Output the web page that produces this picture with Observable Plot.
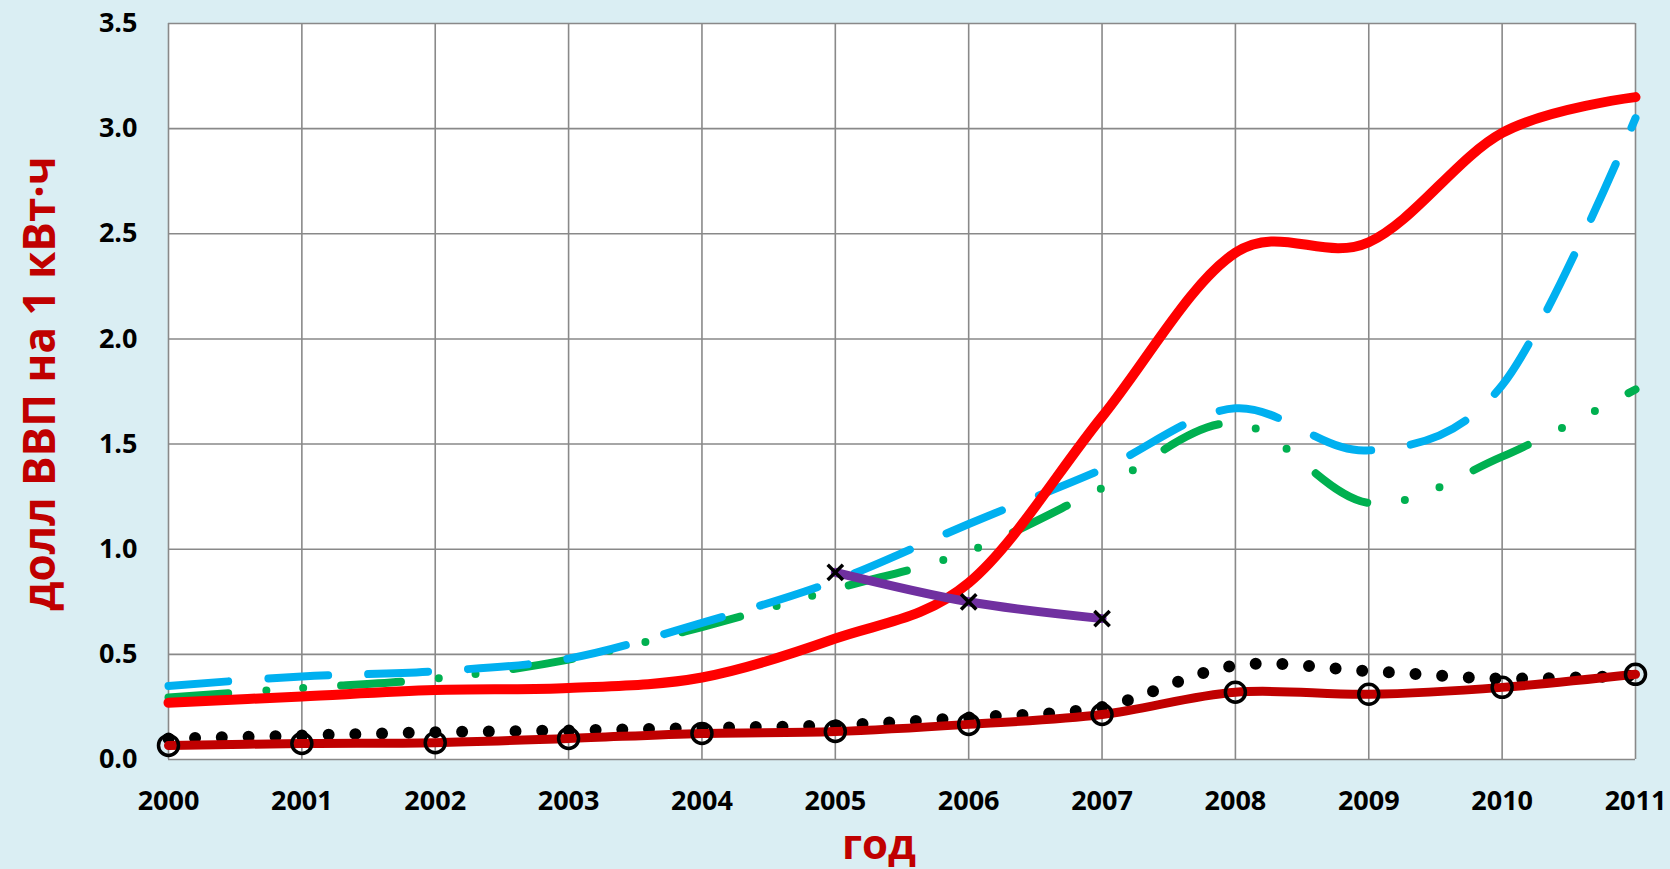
<!DOCTYPE html>
<html>
<head>
<meta charset="utf-8">
<script src="https://cdn.jsdelivr.net/npm/d3@7"></script>
<script src="https://cdn.jsdelivr.net/npm/@observablehq/plot@0.6"></script>
<style>
  html, body { margin: 0; padding: 0; background: #DAEEF3; }
  #chart { width: 1670px; height: 869px; }
</style>
</head>
<body>
<div id="chart"></div>
<script>
const years = [2000, 2001, 2002, 2003, 2004, 2005, 2006, 2007, 2008, 2009, 2010, 2011];
const redSeries     = [0.27, 0.30, 0.33, 0.34, 0.39, 0.575, 0.84, 1.63, 2.41, 2.46, 2.98, 3.15];
const blueSeries    = [0.35, 0.395, 0.42, 0.48, 0.65, 0.85, 1.12, 1.38, 1.67, 1.47, 1.78, 3.05];
const greenSeries   = [0.295, 0.34, 0.385, 0.475, 0.63, 0.81, 0.99, 1.29, 1.60, 1.22, 1.44, 1.76];
const blackSeries   = [0.10, 0.114, 0.13, 0.138, 0.15, 0.163, 0.20, 0.25, 0.447, 0.42, 0.385, 0.40];
const darkRedSeries = [0.067, 0.076, 0.08, 0.10, 0.124, 0.133, 0.167, 0.214, 0.32, 0.31, 0.343, 0.405];
const purpleYears   = [2005, 2006, 2007];
const purpleSeries  = [0.89, 0.75, 0.67];
const yTicks = [0, 0.5, 1.0, 1.5, 2.0, 2.5, 3.0, 3.5];
const yTitle = "долл ВВП на 1 кВт·ч";
const xTitle = "год";

const toRows = (xs, ys) => xs.map((x, i) => ({x, y: ys[i]}));
const red = toRows(years, redSeries);
const blue = toRows(years, blueSeries);
const green = toRows(years, greenSeries);
const black = toRows(years, blackSeries);
const darkRed = toRows(years, darkRedSeries);
const purple = toRows(purpleYears, purpleSeries);

const gridStyle = {stroke: "#898989", strokeOpacity: 1, strokeWidth: 1.6};
const curve = "cardinal";

const chart = Plot.plot({
  width: 1670,
  height: 869,
  marginLeft: 168,
  marginRight: 35,
  marginTop: 23,
  marginBottom: 110,
  style: {background: "#DAEEF3", fontFamily: "'Open Sans', sans-serif", fontWeight: "bold", color: "black"},
  x: {domain: [2000, 2011]},
  y: {domain: [0, 3.5]},
  marks: [
    Plot.frame({fill: "white", stroke: "none"}),
    Plot.gridX(years, gridStyle),
    Plot.gridY(yTicks, gridStyle),
    Plot.axisX(years, {tickSize: 0, tickPadding: 31, fontSize: 27, fontWeight: "bold", fill: "black", tickFormat: d => String(d), label: null}),
    Plot.axisY(yTicks, {tickSize: 0, tickPadding: 31, fontSize: 27, fontWeight: "bold", fill: "black", tickFormat: d => d.toFixed(1), label: null}),
    Plot.line(black, {x: "x", y: "y", curve, stroke: "black", strokeWidth: 12, strokeLinecap: "round", strokeDasharray: "0 26.7"}),
    Plot.line(darkRed, {x: "x", y: "y", curve, stroke: "#C00000", strokeWidth: 9}),
    Plot.line(green, {x: "x", y: "y", curve, stroke: "#00B050", strokeWidth: 8, strokeLinecap: "round", strokeDasharray: "60 38 0 37 0 38"}),
    Plot.line(blue, {x: "x", y: "y", curve, stroke: "#00B0F0", strokeWidth: 8, strokeLinecap: "round", strokeDasharray: "60 40"}),
    Plot.line(red, {x: "x", y: "y", curve, stroke: "#FF0000", strokeWidth: 10}),
    Plot.line(purple, {x: "x", y: "y", curve, stroke: "#7030A0", strokeWidth: 9}),
    Plot.dot(purple, {x: "x", y: "y", symbol: "times", r: 7, stroke: "black", strokeWidth: 3.5}),
    Plot.dot(darkRed, {x: "x", y: "y", r: 10, stroke: "black", strokeWidth: 3.5, fill: "none"}),
    Plot.text([yTitle], {frameAnchor: "left", rotate: -90, dx: -114, dy: -8, lineAnchor: "bottom", textAnchor: "middle", fill: "#C00000", fontSize: 44, fontWeight: "bold"}),
    Plot.text([xTitle], {frameAnchor: "bottom", lineAnchor: "bottom", dy: 99, dx: -23, textAnchor: "middle", fill: "#C00000", fontSize: 42, fontWeight: "bold"})
  ]
});
document.getElementById("chart").appendChild(chart);
</script>
</body>
</html>
